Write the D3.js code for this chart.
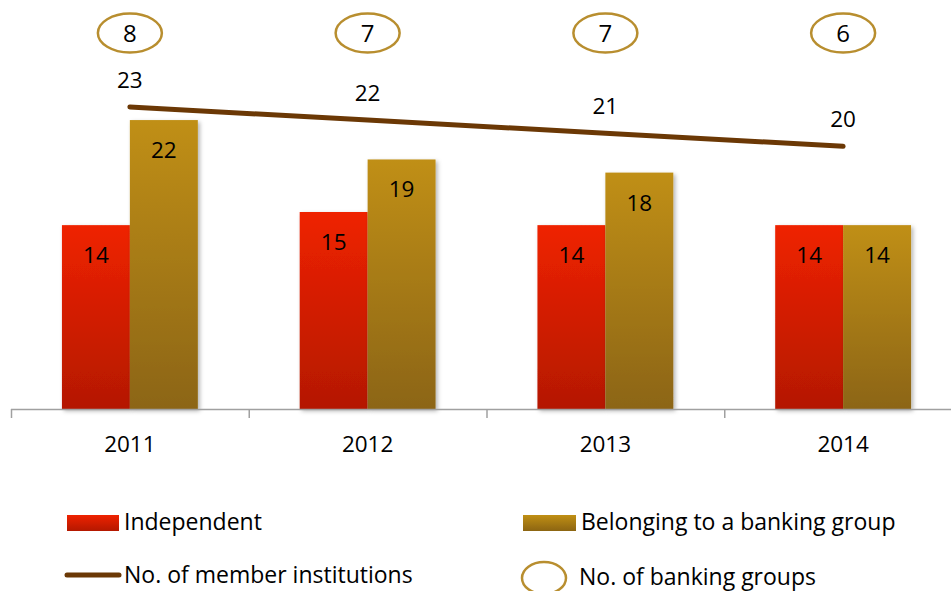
<!DOCTYPE html>
<html>
<head>
<meta charset="utf-8">
<script src="https://cdn.jsdelivr.net/npm/d3@7"></script>
<style>
  html, body { margin: 0; padding: 0; background: #fff; }
  svg text { font-family: "Open Sans", Lato, sans-serif; fill: #000; }
</style>
</head>
<body>
<svg id="chart" width="951" height="591"></svg>
<script>
const years = ["2011", "2012", "2013", "2014"];
const independent = [14, 15, 14, 14];
const bankingGroup = [22, 19, 18, 14];
const memberInstitutions = [23, 22, 21, 20];
const bankingGroupsCount = [8, 7, 7, 6];
const seriesNames = ["Independent", "Belonging to a banking group", "No. of member institutions", "No. of banking groups"];

const svg = d3.select("#chart");
const defs = svg.append("defs");

function vGrad(id, top, bottom) {
  const g = defs.append("linearGradient").attr("id", id)
    .attr("x1", 0).attr("y1", 0).attr("x2", 0).attr("y2", 1);
  g.append("stop").attr("offset", "0%").attr("stop-color", top);
  g.append("stop").attr("offset", "100%").attr("stop-color", bottom);
}
vGrad("gRed", "#ef2200", "#b41800");
vGrad("gGold", "#c08f14", "#8c6512");

const shadow = defs.append("filter").attr("id", "shadow")
  .attr("x", "-10%").attr("y", "-10%").attr("width", "130%").attr("height", "130%");
shadow.append("feDropShadow").attr("dx", 2).attr("dy", 2).attr("stdDeviation", 2)
  .attr("flood-color", "#000").attr("flood-opacity", 0.3);

const x = d3.scaleBand().domain(years).range([11, 962]).paddingInner(0).paddingOuter(0);
const inner = d3.scaleBand().domain([0, 1]).range([0, x.bandwidth()]).paddingOuter(0.75).paddingInner(0);
const y = d3.scaleLinear().domain([0, 30]).range([409, 15]);
const cx = d => x(d) + x.bandwidth() / 2;

// bars
const barData = [
  { vals: independent, fill: "url(#gRed)", k: 0 },
  { vals: bankingGroup, fill: "url(#gGold)", k: 1 }
];
barData.forEach(s => {
  const gs = svg.append("g");
  gs.selectAll("rect").data(years).join("rect")
    .attr("x", d => x(d) + inner(s.k))
    .attr("width", inner.bandwidth())
    .attr("y", (d, i) => y(s.vals[i]))
    .attr("height", (d, i) => y(0) - y(s.vals[i]))
    .attr("fill", s.fill)
    .attr("filter", "url(#shadow)");
  gs.selectAll("text").data(years).join("text")
    .attr("x", d => x(d) + inner(s.k) + inner.bandwidth() / 2)
    .attr("y", (d, i) => y(s.vals[i]) + 38)
    .attr("text-anchor", "middle")
    .attr("font-size", 22.5)
    .text((d, i) => s.vals[i]);
});

// x axis
const axis = svg.append("g");
axis.append("line").attr("x1", 11).attr("x2", 962).attr("y1", 409.5).attr("y2", 409.5)
  .attr("stroke", "#a0a0a0").attr("stroke-width", 1.5);
axis.selectAll("line.tick").data(years.concat(["end"])).join("line").attr("class", "tick")
  .attr("x1", (d, i) => 11.5 + i * x.step()).attr("x2", (d, i) => 11.5 + i * x.step())
  .attr("y1", 409).attr("y2", 418)
  .attr("stroke", "#a0a0a0").attr("stroke-width", 1.5);
axis.selectAll("text").data(years).join("text")
  .attr("x", d => cx(d)).attr("y", 452)
  .attr("text-anchor", "middle").attr("font-size", 22.5)
  .text(d => d);

// member institutions line
const line = d3.line().x(d => cx(d.year)).y(d => y(d.v));
const linePts = years.map((yr, i) => ({ year: yr, v: memberInstitutions[i] }));
svg.append("path").datum(linePts).attr("d", line)
  .attr("fill", "none").attr("stroke", "#6b3805").attr("stroke-width", 5)
  .attr("stroke-linecap", "round");
svg.append("g").selectAll("text").data(linePts).join("text")
  .attr("x", d => cx(d.year)).attr("y", d => y(d.v) - 19)
  .attr("text-anchor", "middle").attr("font-size", 22.5)
  .text(d => d.v);

// banking groups ellipses
const eg = svg.append("g");
eg.selectAll("ellipse").data(years).join("ellipse")
  .attr("cx", d => cx(d)).attr("cy", 33).attr("rx", 32).attr("ry", 19.5)
  .attr("fill", "none").attr("stroke", "#b88e2f").attr("stroke-width", 2.5);
eg.selectAll("text").data(years).join("text")
  .attr("x", d => cx(d)).attr("y", 42)
  .attr("text-anchor", "middle").attr("font-size", 24)
  .text((d, i) => bankingGroupsCount[i]);

// legend
const lg = svg.append("g");
lg.append("rect").attr("x", 67).attr("y", 515).attr("width", 52).attr("height", 16).attr("fill", "url(#gRed)");
lg.append("text").attr("x", 124).attr("y", 530).attr("font-size", 23).text(seriesNames[0]);
lg.append("rect").attr("x", 523).attr("y", 515).attr("width", 53).attr("height", 16).attr("fill", "url(#gGold)");
lg.append("text").attr("x", 581).attr("y", 530).attr("font-size", 23).text(seriesNames[1]);
lg.append("line").attr("x1", 67).attr("x2", 119).attr("y1", 575).attr("y2", 575)
  .attr("stroke", "#6b3805").attr("stroke-width", 5).attr("stroke-linecap", "round");
lg.append("text").attr("x", 124).attr("y", 583).attr("font-size", 23).text(seriesNames[2]);
lg.append("ellipse").attr("cx", 544).attr("cy", 578).attr("rx", 22).attr("ry", 16)
  .attr("fill", "none").attr("stroke", "#b88e2f").attr("stroke-width", 2.5);
lg.append("text").attr("x", 579).attr("y", 585).attr("font-size", 23).text(seriesNames[3]);
</script>
</body>
</html>
